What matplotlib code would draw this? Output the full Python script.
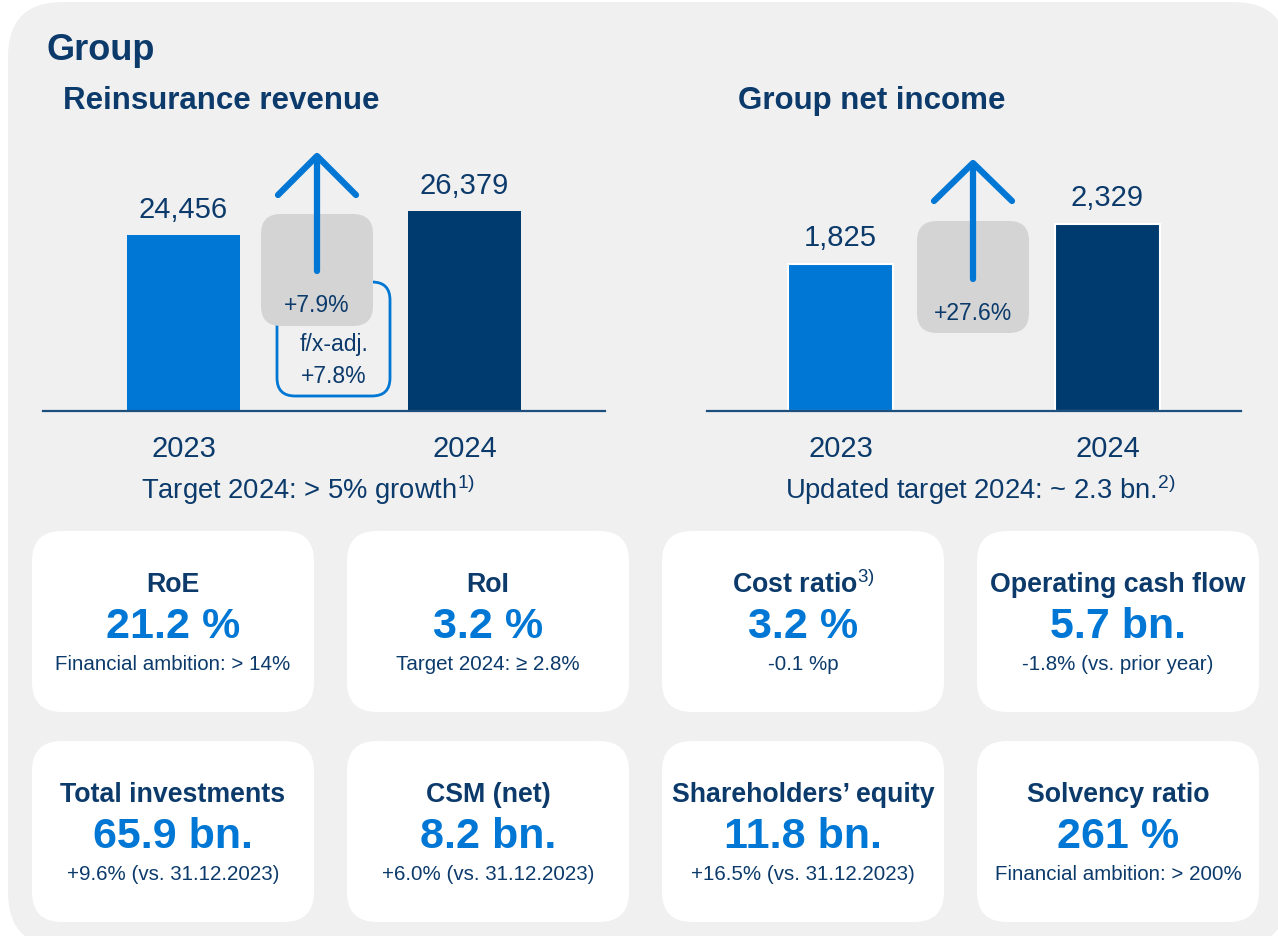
import matplotlib
matplotlib.use("Agg")
import matplotlib.pyplot as plt
from matplotlib.patches import FancyBboxPatch

plt.rcParams['font.family'] = ['Liberation Sans', 'DejaVu Sans']
plt.rcParams['mathtext.fontset'] = 'custom'
plt.rcParams['mathtext.rm'] = 'Liberation Sans'

NAVY = '#0b3a6b'
DARK = '#003b6f'
BLUE = '#0077d4'
GRAY = '#d4d4d4'
BG = '#f0f0f0'

# data
years = ['2023', '2024']
revenue = [24456, 26379]
net_income = [1825, 2329]
revenue_growth = '+7.9%'
revenue_fx = 'f/x-adj.\n+7.8%'
income_growth = '+27.6%'

card_titles = ['RoE', 'RoI', r'Cost ratio$^{\mathrm{3)}}$', 'Operating cash flow',
               'Total investments', 'CSM (net)', 'Shareholders’ equity', 'Solvency ratio']
card_values = ['21.2 %', '3.2 %', '3.2 %', '5.7 bn.',
               '65.9 bn.', '8.2 bn.', '11.8 bn.', '261 %']
card_subs = ['Financial ambition: > 14%', 'Target 2024: ≥ 2.8%', '-0.1 %p',
             '-1.8% (vs. prior year)', '+9.6% (vs. 31.12.2023)',
             '+6.0% (vs. 31.12.2023)', '+16.5% (vs. 31.12.2023)',
             'Financial ambition: > 200%']

W, H = 1278, 937
fig = plt.figure(figsize=(W / 100, H / 100), dpi=100)
fig.patch.set_facecolor('white')

# background layer in pixel coords
bg = fig.add_axes([0, 0, 1, 1], zorder=0)
bg.set_xlim(0, W)
bg.set_ylim(H, 0)
bg.axis('off')
bg.add_patch(FancyBboxPatch((8, 3), 1280, 945, boxstyle='round,pad=0,rounding_size=55',
                            fc=BG, ec='none'))

card_x = [32, 347, 662, 977]
card_y = [532, 742]
for i in range(8):
    x = card_x[i % 4]
    y = card_y[i // 4]
    bg.add_patch(FancyBboxPatch((x, y), 282, 181, boxstyle='round,pad=0,rounding_size=30',
                                fc='white', ec='none'))
    cx = x + 141
    bg.text(cx, y + 53, card_titles[i], ha='center', va='center', fontsize=19.3,
            fontweight='bold', color=NAVY)
    bg.text(cx, y + 95, card_values[i], ha='center', va='center', fontsize=31,
            fontweight='bold', color=BLUE)
    bg.text(cx, y + 133, card_subs[i], ha='center', va='center', fontsize=14.8, color=NAVY)

bg.text(46, 50, 'Group', ha='left', va='center', fontsize=26, fontweight='bold', color=NAVY)
bg.text(63, 101, 'Reinsurance revenue', ha='left', va='center', fontsize=22.5,
        fontweight='bold', color=NAVY)
bg.text(738, 101, 'Group net income', ha='left', va='center', fontsize=22.5,
        fontweight='bold', color=NAVY)
bg.text(308, 490, r'Target 2024: > 5% growth$^{\mathrm{1)}}$', ha='center', va='center',
        fontsize=19.7, color=NAVY)
bg.text(980, 490, r'Updated target 2024: ~ 2.3 bn.$^{\mathrm{2)}}$', ha='center', va='center',
        fontsize=19.7, color=NAVY)


def bar_axes(left, right, top, base):
    ax = fig.add_axes([left / W, 1 - base / H, (right - left) / W, (base - top) / H], zorder=1)
    ax.set_facecolor('none')
    for s in ['top', 'left', 'right']:
        ax.spines[s].set_visible(False)
    ax.spines['bottom'].set_color('#1d4f7c')
    ax.spines['bottom'].set_linewidth(1.6)
    ax.set_yticks([])
    ax.set_xticks([0, 1])
    ax.set_xticklabels(years, fontsize=21, color=NAVY)
    ax.tick_params(axis='x', length=0, pad=16.5)
    ax.set_xlim(-0.5, 1.5)
    return ax


# Reinsurance revenue
ax1 = bar_axes(43, 605, 150, 412)
ax1.bar([0, 1], revenue, width=0.402, color=[BLUE, DARK])
ax1.set_ylim(10353, 31347)
for i, v in enumerate(revenue):
    ax1.annotate(f'{v:,}', (i, v), xytext=(0, 19), textcoords='offset points',
                 ha='center', va='center', fontsize=21, color=NAVY)

# Group net income
ax2 = bar_axes(707, 1241, 150, 412)
ax2.bar([0, 1], net_income, width=0.39, color=[BLUE, DARK], edgecolor='white', linewidth=1.5)
ax2.set_ylim(0, 3263)
for i, v in enumerate(net_income):
    ax2.annotate(f'{v:,}', (i, v), xytext=(0, 19.5), textcoords='offset points',
                 ha='center', va='center', fontsize=21, color=NAVY)

# overlay: growth boxes and arrows
ov = fig.add_axes([0, 0, 1, 1], zorder=3)
ov.set_facecolor('none')
ov.set_xlim(0, W)
ov.set_ylim(H, 0)
ov.axis('off')

ov.add_patch(FancyBboxPatch((277, 283), 113, 114, boxstyle='round,pad=0,rounding_size=18',
                            fc='none', ec=BLUE, lw=2))
ov.add_patch(FancyBboxPatch((261, 215), 112, 112, boxstyle='round,pad=0,rounding_size=20',
                            fc=GRAY, ec='none'))
ov.text(317, 306, revenue_growth, ha='center', va='center', fontsize=16.5, color=NAVY)
ov.text(334, 361, revenue_fx, ha='center', va='center', fontsize=16.5, color=NAVY,
        linespacing=1.5)

ov.add_patch(FancyBboxPatch((917, 222), 112, 112, boxstyle='round,pad=0,rounding_size=20',
                            fc=GRAY, ec='none'))
ov.text(973, 314, income_growth, ha='center', va='center', fontsize=16.5, color=NAVY)

for ax_x, tip, head_y, bottom in [(317, 157, 196, 272), (973, 164, 202, 280)]:
    ov.plot([ax_x, ax_x], [bottom, tip + 4], color=BLUE, lw=4.5, solid_capstyle='round')
    ov.plot([ax_x - 39, ax_x, ax_x + 39], [head_y, tip, head_y], color=BLUE, lw=4.5,
            solid_capstyle='round', solid_joinstyle='round')

fig.savefig('out.png', dpi=100)
